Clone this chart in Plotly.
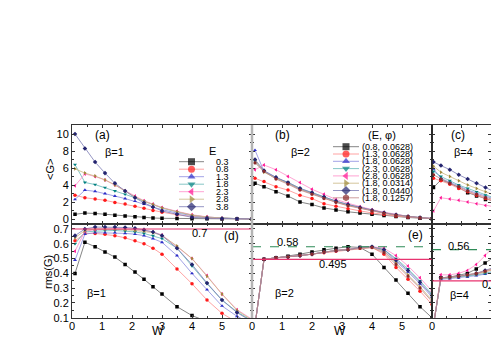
import plotly.graph_objects as go

# ---- data ----
W_1 = [0.1, 0.43, 0.77, 1.1, 1.43, 1.77, 2.1, 2.4, 2.7, 3.0, 3.5, 4.0, 4.5, 5.0, 5.5, 6.0]
W_2 = [0.1, 0.4, 0.8, 1.2, 1.6, 2.0, 2.4, 2.8, 3.2, 3.6, 4.0, 4.4, 4.8, 5.2, 5.6, 6.0]
W_4 = [0.05, 0.3, 0.6, 0.9, 1.2, 1.5, 1.8, 2.1, 2.4]

E_labels = ["0.3", "0.8", "1.3", "1.8", "2.3", "2.8", "3.8"]
Ephi_labels = ["(0.8, 0.0628)", "(1.3, 0.0628)", "(1.8, 0.0628)", "(2.3, 0.0628)",
               "(2.8, 0.0628)", "(1.8, 0.0314)", "(1.8, 0.0440)", "(1.8, 0.1257)"]

# <G>, beta=1
G_b1 = [
    [0.55, 0.7, 0.65, 0.55, 0.45, 0.35, 0.25, 0.18, 0.12, 0.08, 0.05, 0.03, 0.02, 0.01, 0.01, 0.0],
    [2.8, 2.5, 2.35, 2.2, 1.95, 1.75, 1.5, 1.25, 1.0, 0.8, 0.5, 0.3, 0.15, 0.07, 0.03, 0.01],
    [2.3, 3.4, 3.25, 3.0, 2.7, 2.4, 2.1, 1.75, 1.4, 1.1, 0.7, 0.4, 0.2, 0.08, 0.03, 0.01],
    [6.4, 4.3, 4.05, 3.7, 3.3, 2.9, 2.5, 2.1, 1.7, 1.3, 0.85, 0.45, 0.22, 0.1, 0.04, 0.01],
    [3.9, 5.3, 5.0, 4.6, 4.0, 3.3, 2.7, 2.15, 1.75, 1.35, 0.9, 0.5, 0.25, 0.1, 0.04, 0.01],
    [5.9, 5.4, 5.05, 4.6, 4.0, 3.3, 2.6, 2.1, 1.7, 1.3, 0.85, 0.45, 0.22, 0.1, 0.04, 0.01],
    [10.0, 8.3, 6.7, 5.4, 4.2, 3.3, 2.5, 1.9, 1.4, 0.95, 0.55, 0.2, 0.1, 0.05, 0.02, 0.01],
]
# rms(G), beta=1
R_b1 = [
    [0.40, 0.61, 0.58, 0.545, 0.51, 0.46, 0.41, 0.36, 0.31, 0.26, 0.175, 0.115, 0.075, 0.05, 0.03, 0.02],
    [0.62, 0.67, 0.67, 0.665, 0.655, 0.64, 0.62, 0.60, 0.57, 0.53, 0.43, 0.33, 0.22, 0.13, 0.07, 0.04],
    [0.49, 0.665, 0.675, 0.675, 0.675, 0.67, 0.665, 0.655, 0.635, 0.61, 0.52, 0.40, 0.29, 0.18, 0.11, 0.06],
    [0.60, 0.68, 0.685, 0.69, 0.69, 0.685, 0.68, 0.67, 0.655, 0.635, 0.57, 0.45, 0.33, 0.22, 0.14, 0.08],
    [0.55, 0.685, 0.695, 0.70, 0.70, 0.70, 0.695, 0.69, 0.68, 0.66, 0.58, 0.50, 0.385, 0.26, 0.155, 0.09],
    [0.64, 0.69, 0.70, 0.70, 0.70, 0.695, 0.69, 0.685, 0.675, 0.655, 0.585, 0.50, 0.38, 0.26, 0.15, 0.085],
    [0.655, 0.70, 0.713, 0.713, 0.713, 0.71, 0.705, 0.695, 0.68, 0.655, 0.57, 0.46, 0.335, 0.22, 0.135, 0.075],
]
# <G>, beta=2
G_b2 = [
    [4.2, 3.8, 3.2, 2.7, 2.0, 1.7, 1.3, 1.05, 0.85, 0.7, 0.55, 0.4, 0.28, 0.18, 0.1, 0.04],
    [4.8, 4.4, 3.8, 3.4, 2.8, 2.4, 1.8, 1.5, 1.2, 0.95, 0.72, 0.52, 0.36, 0.22, 0.12, 0.05],
    [8.1, 5.6, 4.9, 4.2, 3.5, 3.0, 2.5, 2.0, 1.65, 1.3, 1.0, 0.72, 0.48, 0.3, 0.16, 0.06],
    [6.8, 5.6, 4.8, 4.3, 3.6, 3.1, 2.6, 2.1, 1.7, 1.35, 1.02, 0.74, 0.5, 0.3, 0.16, 0.06],
    [5.8, 6.35, 5.8, 5.0, 4.3, 3.5, 2.9, 2.3, 1.85, 1.45, 1.1, 0.8, 0.52, 0.32, 0.17, 0.06],
    [6.9, 5.5, 4.8, 4.2, 3.5, 3.0, 2.5, 2.0, 1.6, 1.3, 0.98, 0.7, 0.47, 0.29, 0.15, 0.06],
    [7.0, 5.7, 4.9, 4.3, 3.6, 3.1, 2.6, 2.1, 1.7, 1.35, 1.02, 0.74, 0.5, 0.3, 0.16, 0.06],
    [6.6, 5.6, 4.7, 4.1, 3.4, 2.9, 2.4, 1.95, 1.55, 1.25, 0.95, 0.68, 0.45, 0.27, 0.14, 0.05],
]
# rms(G), beta=2
R_b2 = [
    [0.05, 0.495, 0.505, 0.515, 0.53, 0.545, 0.56, 0.57, 0.58, 0.575, 0.53, 0.44, 0.355, 0.265, 0.175, 0.1],
    [0.05, 0.495, 0.505, 0.51, 0.52, 0.53, 0.54, 0.55, 0.56, 0.57, 0.575, 0.53, 0.44, 0.36, 0.28, 0.19],
    [0.05, 0.495, 0.505, 0.51, 0.52, 0.53, 0.545, 0.555, 0.56, 0.575, 0.58, 0.55, 0.48, 0.41, 0.33, 0.24],
    [0.05, 0.495, 0.505, 0.51, 0.52, 0.53, 0.545, 0.555, 0.56, 0.575, 0.58, 0.56, 0.50, 0.43, 0.35, 0.26],
    [0.05, 0.495, 0.505, 0.51, 0.52, 0.53, 0.545, 0.555, 0.565, 0.575, 0.58, 0.57, 0.52, 0.45, 0.37, 0.28],
    [0.05, 0.495, 0.505, 0.51, 0.52, 0.53, 0.545, 0.555, 0.56, 0.575, 0.58, 0.55, 0.47, 0.39, 0.31, 0.22],
    [0.05, 0.495, 0.505, 0.51, 0.52, 0.53, 0.545, 0.555, 0.56, 0.575, 0.58, 0.56, 0.49, 0.42, 0.34, 0.25],
    [0.05, 0.495, 0.505, 0.51, 0.52, 0.53, 0.545, 0.555, 0.56, 0.57, 0.575, 0.54, 0.46, 0.38, 0.30, 0.21],
]
# <G>, beta=4
G_b4 = [
    [3.7, 4.6, 4.2, 3.7, 3.1, 2.7, 2.3, 2.0, 1.7],
    [4.8, 4.5, 4.1, 3.6, 3.2, 2.8, 2.4, 2.1, 1.8],
    [5.9, 4.8, 4.3, 3.9, 3.4, 3.0, 2.6, 2.3, 2.0],
    [5.6, 5.0, 4.5, 4.0, 3.6, 3.2, 2.8, 2.4, 2.1],
    [0.95, 2.5, 2.35, 2.2, 2.0, 1.8, 1.6, 1.4, 1.25],
    [6.2, 5.5, 5.0, 4.5, 4.0, 3.6, 3.2, 2.8, 2.4],
    [6.7, 6.3, 5.8, 5.2, 4.7, 4.2, 3.7, 3.2, 2.8],
    [5.2, 4.7, 4.2, 3.8, 3.3, 2.9, 2.5, 2.2, 1.9],
]
# rms(G), beta=4
R_b4 = [
    [0.05, 0.37, 0.375, 0.385, 0.40, 0.43, 0.47, 0.51, 0.55],
    [0.05, 0.365, 0.37, 0.375, 0.385, 0.395, 0.405, 0.42, 0.44],
    [0.05, 0.36, 0.365, 0.37, 0.375, 0.385, 0.395, 0.41, 0.42],
    [0.05, 0.365, 0.37, 0.375, 0.38, 0.39, 0.40, 0.415, 0.43],
    [0.05, 0.39, 0.39, 0.40, 0.42, 0.46, 0.52, 0.59, 0.65],
    [0.05, 0.37, 0.37, 0.38, 0.385, 0.395, 0.41, 0.43, 0.45],
    [0.05, 0.37, 0.375, 0.38, 0.39, 0.40, 0.42, 0.44, 0.46],
    [0.05, 0.37, 0.375, 0.38, 0.39, 0.40, 0.415, 0.43, 0.45],
]

ref_b1 = [0.7]
ref_b2 = [0.58, 0.495]
ref_b4 = [0.56, 0.35]

# ---- styles ----
marker_colors = ["#000000", "#ff1a1a", "#2d2dc8", "#008080", "#ff1493", "#a08a3a", "#24246e", "#8b2b2b"]
line_colors = ["#666666", "#ff8c8c", "#8a8ae0", "#66b8b8", "#ff8cc8", "#c9b882", "#7a7ab4", "#c08585"]
symbols = ["square", "circle", "triangle-up", "triangle-down", "triangle-left",
           "triangle-right", "diamond", "hexagon"]
b1_style = [0, 1, 2, 3, 4, 5, 6]

W_PX, H_PX = 491, 354
L, T, B = 72, 125, 36
PW, PH = W_PX - L, H_PX - T - B


def px(x):
    return (x - L) / PW


def py(y):
    return (H_PX - B - y) / PH


fig = go.Figure()


def add_series(W, ys, style_idx, xa, ya):
    for vals, s in zip(ys, style_idx):
        fig.add_trace(go.Scatter(
            x=W, y=vals, mode="lines+markers", xaxis=xa, yaxis=ya, showlegend=False,
            line=dict(color=line_colors[s], width=0.8),
            marker=dict(symbol=symbols[s], color=marker_colors[s], size=3.5, line=dict(width=0)),
            cliponaxis=True))


add_series(W_1, G_b1, b1_style, "x", "y")
add_series(W_2, G_b2, range(8), "x2", "y2")
add_series(W_4, G_b4, range(8), "x3", "y3")
add_series(W_1, R_b1, b1_style, "x4", "y4")
add_series(W_2, R_b2, range(8), "x5", "y5")
add_series(W_4, R_b4, range(8), "x6", "y6")


# ---- texts ----
def note(x, y, text, size=11, xanchor="center", **kw):
    fig.add_annotation(x=px(x), y=py(y), xref="paper", yref="paper", text=text,
                       showarrow=False, font=dict(size=size), xanchor=xanchor,
                       yanchor="middle", **kw)


# ---- legends drawn as small traces in pixel space ----
def add_legend(labels, style_idx, x0, x1, ytop, step, tx):
    for i, (lab, s) in enumerate(zip(labels, style_idx)):
        yy = ytop + step * i
        fig.add_trace(go.Scatter(
            x=[x0, (x0 + x1) / 2, x1], y=[yy, yy, yy], mode="lines+markers",
            xaxis="x7", yaxis="y7", showlegend=False, hoverinfo="skip",
            line=dict(color=line_colors[s], width=0.8),
            marker=dict(symbol=symbols[s], color=marker_colors[s], size=[0, 7, 0], line=dict(width=0))))
        note(tx, yy, lab, 9, xanchor="left")


add_legend(E_labels, b1_style, 179, 204, 161.7, 7.5, 214)
add_legend(Ephi_labels, range(8), 333, 359, 146.7, 7.3, 360)

# ---- axes ----
tickfont = dict(family="Liberation Sans, Arial, sans-serif", size=11, color="black")
base = dict(showline=True, linecolor="#333333", linewidth=1, mirror="allticks",
            ticks="inside", ticklen=3, tickcolor="#333333", showgrid=False,
            zeroline=False, tickfont=tickfont, fixedrange=True)

xd = [[0, 180 / PW], [180 / PW, 360 / PW], [360 / PW, 1.0]]
yd_top = [py(223.5), 1.0]
yd_bot = [0.0, py(223.5)]
top_range = [-0.53, 11.06]
bot_range = [0.0986, 0.737]

layout = dict(
    width=W_PX, height=H_PX,
    margin=dict(l=L, r=0, t=T, b=B),
    paper_bgcolor="white", plot_bgcolor="rgba(0,0,0,0)",
    font=dict(family="Liberation Sans, Arial, sans-serif", color="black"),
    showlegend=False,
)
for i in range(3):
    n_top = "" if i == 0 else str(i + 1)
    n_bot = str(i + 4)
    xr = [0, 1.985] if i == 2 else [0, 6]
    layout["xaxis" + n_top] = dict(base, domain=xd[i], range=xr, anchor="y" + n_top,
                                   showticklabels=False, tickvals=[0, 1, 2, 3, 4, 5],
                                   minor=dict(ticks="inside", ticklen=2, dtick=0.5, tickcolor="#333333"))
    layout["yaxis" + n_top] = dict(base, domain=yd_top, range=top_range, anchor="x" + n_top,
                                   showticklabels=(i == 0), tickvals=[0, 2, 4, 6, 8, 10],
                                   minor=dict(ticks="inside", ticklen=2, dtick=1, tickcolor="#333333"))
    layout["xaxis" + n_bot] = dict(base, domain=xd[i], range=[0, 2.0] if i == 2 else [0, 6],
                                   anchor="y" + n_bot, ticklabelstandoff=-2,
                                   tickvals=[0, 2] if i == 2 else [0, 1, 2, 3, 4, 5],
                                   minor=dict(ticks="inside", ticklen=2, dtick=0.5, tickcolor="#333333"))
    layout["yaxis" + n_bot] = dict(base, domain=yd_bot, range=bot_range, anchor="x" + n_bot,
                                   showticklabels=(i == 0),
                                   tickvals=[0.1, 0.2, 0.3, 0.4, 0.5, 0.6, 0.7],
                                   tickformat=".1f",
                                   minor=dict(ticks="inside", ticklen=2, dtick=0.05, tickcolor="#333333"))
layout["xaxis7"] = dict(domain=[0, 1], range=[L, W_PX], visible=False, anchor="y7", fixedrange=True)
layout["yaxis7"] = dict(domain=[0, 1], range=[H_PX - B, T], visible=False, anchor="x7", fixedrange=True)
fig.update_layout(**layout)

# ---- reference levels ----
pink = "#e8336f"
green = "#2e8b57"
fig.add_shape(type="line", xref="x4 domain", yref="y4", x0=0, x1=1, y0=ref_b1[0], y1=ref_b1[0],
              line=dict(color=pink, width=1.2))
fig.add_shape(type="line", xref="x5 domain", yref="y5", x0=0, x1=1, y0=ref_b2[0], y1=ref_b2[0],
              line=dict(color=green, width=1.2, dash="dash"))
fig.add_shape(type="line", xref="x5 domain", yref="y5", x0=0, x1=1, y0=ref_b2[1], y1=ref_b2[1],
              line=dict(color=pink, width=1.2))
fig.add_shape(type="line", xref="x6 domain", yref="y6", x0=0, x1=1, y0=ref_b4[0], y1=ref_b4[0],
              line=dict(color=green, width=1.2, dash="dash"))
fig.add_shape(type="line", xref="x6 domain", yref="y6", x0=0, x1=1, y0=ref_b4[1], y1=ref_b4[1],
              line=dict(color=pink, width=1.2))

# panel separators
fig.add_shape(type="line", xref="paper", yref="paper", x0=px(252), x1=px(252), y0=0, y1=1,
              line=dict(color="#b4b4b4", width=2.5))
fig.add_shape(type="line", xref="paper", yref="paper", x0=px(432), x1=px(432), y0=0, y1=1,
              line=dict(color="#222222", width=1))

note(102, 135, "(a)", 12)
note(282, 135, "(b)", 12)
note(458, 135, "(c)", 12)
note(114, 152, "β=1")
note(300, 152, "β=2")
note(463, 152, "β=4")
note(212, 151, "E", 11)
note(382, 135, "(E, φ)", 11)
note(231, 236, "(d)", 12)
note(415, 235, "(e)", 12)
note(199, 233, "0.7")
note(287, 242, "0.58")
note(333, 264, "0.495")
note(458, 246, "0.56")
note(480, 284, "0.35", xanchor="left")
note(96, 293, "β=1")
note(284, 293, "β=2")
note(459, 295, "β=4")
note(158, 331, "W", 12)
note(340, 331, "W", 12)
note(50, 170, "&lt;G&gt;", 11, textangle=-90)
note(48, 272, "rms(G)", 11, textangle=-90)

# page body has a default 8px margin; remove it so the figure sits at the window corner
fig.write_html("out.html", config={"displayModeBar": False},
               post_script="document.body.style.margin='0';")
